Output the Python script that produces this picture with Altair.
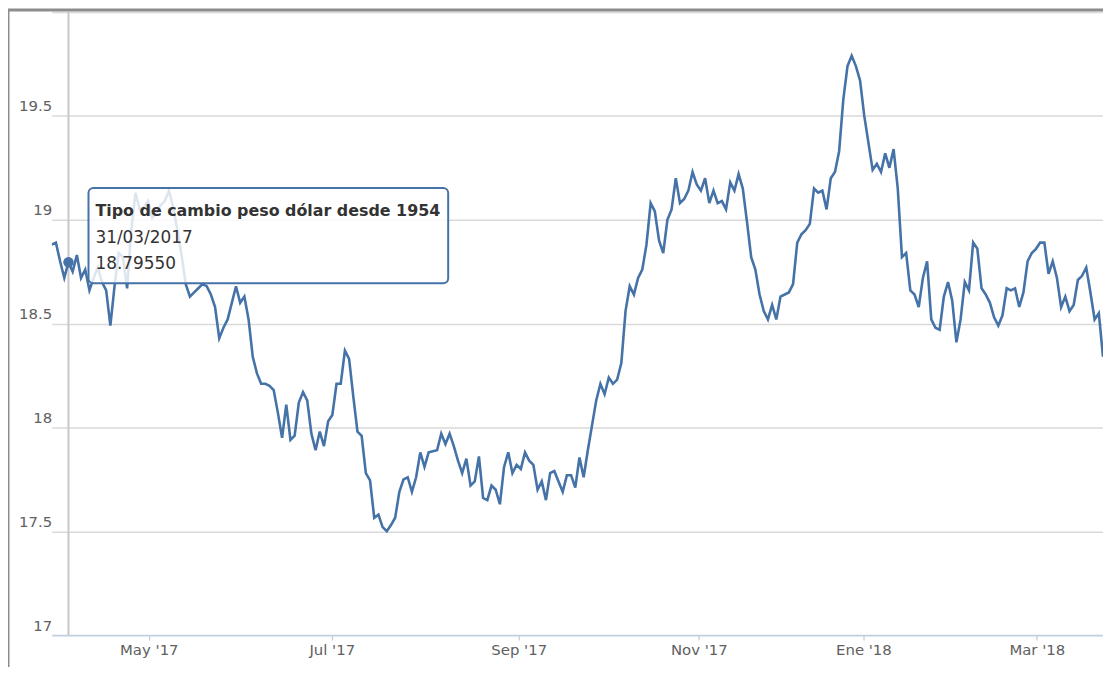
import json
import altair as alt
import pandas as pd

# ---- data (one value per trading day) ----
day_index = list(range(252))
rate = [
    18.88, 18.89, 18.80, 18.72, 18.7955, 18.75, 18.83, 18.72, 18.76, 18.66,
    18.72, 18.77, 18.70, 18.66, 18.49, 18.68, 18.84, 18.82, 18.67, 18.95,
    19.13, 19.05, 19.06, 19.09, 19.01, 19.03, 19.07, 19.09, 19.14, 19.06,
    18.95, 18.83, 18.69, 18.63, 18.65, 18.67, 18.69, 18.68, 18.64, 18.58,
    18.43, 18.48, 18.52, 18.60, 18.68, 18.60, 18.63, 18.52, 18.34, 18.26,
    18.21, 18.21, 18.20, 18.18, 18.07, 17.95, 18.11, 17.94, 17.96, 18.12,
    18.17, 18.13, 17.97, 17.89, 17.98, 17.91, 18.03, 18.06, 18.21, 18.21,
    18.37, 18.33, 18.15, 17.98, 17.96, 17.78, 17.745, 17.565, 17.58, 17.52,
    17.50, 17.53, 17.565, 17.69, 17.75, 17.76, 17.69, 17.76, 17.88, 17.81,
    17.88, 17.885, 17.89, 17.97, 17.92, 17.97, 17.91, 17.84, 17.78, 17.85,
    17.72, 17.74, 17.86, 17.66, 17.65, 17.72, 17.70, 17.63, 17.81, 17.88,
    17.78, 17.82, 17.80, 17.88, 17.84, 17.82, 17.70, 17.74, 17.65, 17.78,
    17.79, 17.74, 17.69, 17.77, 17.77, 17.71, 17.855, 17.76, 17.89, 18.01,
    18.13, 18.21, 18.16, 18.24, 18.21, 18.23, 18.31, 18.56, 18.68, 18.64,
    18.72, 18.76, 18.88, 19.08, 19.04, 18.90, 18.84, 19.00, 19.05, 19.20,
    19.08, 19.10, 19.14, 19.23, 19.17, 19.14, 19.20, 19.08, 19.14, 19.08,
    19.09, 19.05, 19.18, 19.14, 19.22, 19.15, 18.99, 18.82, 18.76, 18.64,
    18.56, 18.52, 18.59, 18.52, 18.63, 18.64, 18.65, 18.69, 18.89, 18.93,
    18.95, 18.98, 19.15, 19.13, 19.14, 19.05, 19.20, 19.23, 19.33, 19.58,
    19.74, 19.79, 19.74, 19.67, 19.50, 19.37, 19.24, 19.27, 19.23, 19.32,
    19.25, 19.34, 19.15, 18.82, 18.84, 18.66, 18.64, 18.58, 18.72, 18.80,
    18.52, 18.48, 18.47, 18.63, 18.70, 18.61, 18.41, 18.52, 18.70, 18.66,
    18.89, 18.86, 18.67, 18.64, 18.60, 18.53, 18.49, 18.54, 18.67, 18.66,
    18.67, 18.58, 18.65, 18.80, 18.84, 18.86, 18.89, 18.89, 18.74, 18.80,
    18.72, 18.58, 18.63, 18.56, 18.59, 18.71, 18.73, 18.77, 18.65, 18.52,
    18.55, 18.34,
]

tick_pos = [23.18, 66.86, 111.5, 154.5, 193.8, 235.2]
tick_labels = ["May '17", "Jul '17", "Sep '17", "Nov '17", "Ene '18", "Mar '18"]
y_ticks = [17, 17.5, 18, 18.5, 19, 19.5, 20]

hover_index = 4
hover_date = "31/03/2017"
tooltip_title = "Tipo de cambio peso dólar desde 1954"

# ---- layout / style constants ----
W, H = 1058, 627
BLUE = "#4572A7"
X_DOMAIN = [0, 251]
Y_DOMAIN = [17, 20]

df = pd.DataFrame({"t": day_index, "rate": rate})
hover_df = pd.DataFrame({"t": [day_index[hover_index]], "rate": [rate[hover_index]]})

# tooltip box anchored in data units
tip_box = pd.DataFrame({"t": [8.78], "t2": [94.66], "rate": [19.153], "rate2": [18.694]})
tip_text = pd.DataFrame({
    "t": [10.44, 10.44, 10.44],
    "rate": [19.019, 18.887, 18.764],
    "txt": [tooltip_title, hover_date, f"{rate[hover_index]:.5f}"],
    "bold": [True, False, False],
})

xscale = alt.Scale(domain=X_DOMAIN, nice=False, zero=False)
yscale = alt.Scale(domain=Y_DOMAIN, nice=False, zero=False)

x_axis = alt.Axis(
    values=tick_pos,
    labelExpr=f"{json.dumps(tick_labels)}[indexof({json.dumps(tick_pos)}, datum.value)]",
    grid=False,
    ticks=True,
    tickSize=5,
    tickColor="#C0D0E0",
    tickWidth=1.3,
    domain=True,
    domainColor="#C0D0E0",
    domainWidth=1.6,
    labelPadding=3,
    labelFont="DejaVu Sans",
    labelFontSize=15,
    labelColor="#606060",
    title=None,
)
y_axis = alt.Axis(
    values=y_ticks,
    labelExpr="datum.value == 20 ? '' : format(datum.value, '~g')",
    grid=True,
    gridColor={"condition": {"test": "datum.value === 17", "value": "rgba(0,0,0,0)"},
               "value": "#D9D9D9"},
    gridWidth=1.5,
    ticks=False,
    tickSize=0,
    domain=False,
    labelPadding=0,
    labelBaseline="alphabetic",
    labelOffset=-5,
    labelFont="DejaVu Sans",
    labelFontSize=15,
    labelColor="#606060",
    title=None,
)


def X(field="t:Q"):
    return alt.X(field, scale=xscale, axis=x_axis)


def Y(field="rate:Q"):
    return alt.Y(field, scale=yscale, axis=y_axis)


line = alt.Chart(df).mark_line(color=BLUE, strokeWidth=2.6, clip=True).encode(
    x=X(), y=Y()
)

crosshair = alt.Chart(hover_df).mark_rule(color="#C8C8C8", strokeWidth=2).encode(
    x=X(), y=alt.value(0), y2=alt.value(H)
)

marker = alt.Chart(hover_df).mark_point(filled=True, size=110, color=BLUE, opacity=1).encode(
    x=X(), y=Y()
)

box = alt.Chart(tip_box).mark_rect(
    cornerRadius=5, fill="white", fillOpacity=0.82, stroke=BLUE, strokeWidth=2
).encode(
    x=X(), x2="t2:Q", y=Y(), y2="rate2:Q"
)

title_txt = alt.Chart(tip_text[tip_text["bold"]]).mark_text(
    align="left", baseline="alphabetic", font="DejaVu Sans", fontSize=16,
    fontWeight="bold", color="#333333"
).encode(x=X(), y=Y(), text="txt:N")

body_txt = alt.Chart(tip_text[~tip_text["bold"]]).mark_text(
    align="left", baseline="alphabetic", font="DejaVu Sans", fontSize=17,
    color="#333333"
).encode(x=X(), y=Y(), text="txt:N")

frame_df = pd.DataFrame({"k": [0]})
frame_left = alt.Chart(frame_df).mark_rule(color="#8C8C8C", strokeWidth=3).encode(
    x=alt.value(-44), y=alt.value(-2), y2=alt.value(H + 40)
)
frame_top = alt.Chart(frame_df).mark_rule(color="#8C8C8C", strokeWidth=3).encode(
    x=alt.value(-44), x2=alt.value(W + 10), y=alt.value(-2)
)

chart = alt.layer(
    frame_left, frame_top, crosshair, line, marker, box, title_txt, body_txt
).properties(
    width=W,
    height=H,
    background="white",
    autosize=alt.AutoSizeParams(type="none"),
    padding={"left": 44, "top": 2, "right": 0, "bottom": 30},
).configure_view(
    strokeWidth=0
)

chart.save("out.html", embed_options={"renderer": "svg", "actions": False})
